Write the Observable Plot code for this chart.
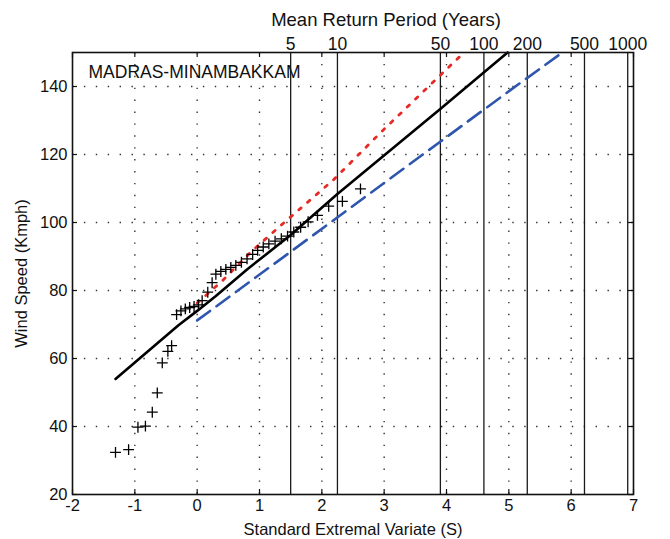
<!DOCTYPE html>
<html><head><meta charset="utf-8">
<script src="https://cdn.jsdelivr.net/npm/d3@7"></script>
<script src="https://cdn.jsdelivr.net/npm/@observablehq/plot@0.6"></script>
<style>html,body{margin:0;padding:0;background:#fff}</style>
</head><body><div id="chart"></div>
<script>
const station = "MADRAS-MINAMBAKKAM";
const xTitle = "Standard Extremal Variate (S)";
const yTitle = "Wind Speed (Kmph)";
const topTitle = "Mean Return Period (Years)";
const xTicks = [-2,-1,0,1,2,3,4,5,6,7];
const yTicks = [20,40,60,80,100,120,140];
const returnPeriods = [5,10,50,100,200,500,1000];

// observed annual maxima (reduced variate S, wind speed)
const obsS = [-1.31,-1.10,-0.95,-0.83,-0.72,-0.64,-0.56,-0.47,-0.41,-0.33,-0.26,-0.19,-0.12,-0.05,0.02,0.08,0.17,0.24,0.30,0.38,0.46,0.54,0.62,0.71,0.80,0.89,0.97,1.06,1.15,1.25,1.35,1.45,1.55,1.66,1.78,1.93,2.11,2.33,2.62];
const obsV = [32.4,33.2,39.8,40.1,44.2,49.9,58.7,62.1,63.8,72.9,74.0,74.6,75.0,75.3,75.8,77.0,79.5,82.3,84.8,85.6,86.2,86.8,87.4,88.3,89.3,90.6,91.8,92.8,93.7,94.5,95.2,96.0,97.2,98.6,100.2,102.1,104.8,106.2,109.9];

// fitted Gumbel line (black)
const fitS = [-1.31,-0.3,0.0,0.3,0.8,1.5,2.25,3.9,4.98];
const fitV = [54.0,69.8,74.0,78.4,86.2,96.3,108.4,133.4,150];
// upper confidence (red dotted)
const upS = [0.0,0.4,0.86,1.34,2.19,2.94,3.9,4.28];
const upV = [76.3,82.8,91.3,99.1,112.6,126.4,143.3,150];
// lower confidence (blue dashed)
const loS = [0.0,1.5,3.91,5.03,5.86];
const loV = [71.2,91.4,123.9,139.0,150];

const rpS = returnPeriods.map(T => -Math.log(-Math.log(1 - 1/T)));
const obs = obsS.map((s,i) => ({s, v: obsV[i]}));
const fit = fitS.map((s,i) => ({s, v: fitV[i]}));
const up = upS.map((s,i) => ({s, v: upV[i]}));
const lo = loS.map((s,i) => ({s, v: loV[i]}));

const W = 670, H = 539, mL = 72, mR = 37, mT = 52, mB = 45;
const pw = W - mL - mR, ph = H - mT - mB;
const tick = 5;

const chart = Plot.plot({
  width: W, height: H,
  marginLeft: mL, marginRight: mR, marginTop: mT, marginBottom: mB,
  style: {fontFamily: "'Liberation Sans', Arial, sans-serif", fontSize: "16px", color: "#111", background: "#fff"},
  x: {domain: [-2, 7]},
  y: {domain: [20, 150]},
  marks: [
    Plot.ruleX(xTicks.slice(1, -1), {stroke: "#333", strokeWidth: 1.4, strokeDasharray: "1.4,10.5"}),
    Plot.ruleY(yTicks.slice(1), {stroke: "#333", strokeWidth: 1.4, strokeDasharray: "1.4,10.5"}),
    Plot.ruleX(rpS, {stroke: "#1a1a1a", strokeWidth: 1.3}),
    Plot.ruleX(xTicks, {stroke: "#111", strokeWidth: 1.2, insetTop: ph - tick}),
    Plot.ruleX(xTicks, {stroke: "#111", strokeWidth: 1.2, insetBottom: ph - tick}),
    Plot.ruleY(yTicks, {stroke: "#111", strokeWidth: 1.2, insetRight: pw - tick}),
    Plot.ruleY(yTicks, {stroke: "#111", strokeWidth: 1.2, insetLeft: pw - tick}),
    Plot.line(lo, {x: "s", y: "v", stroke: "#2f56ad", strokeWidth: 2.6, strokeDasharray: "16,8"}),
    Plot.line(up, {x: "s", y: "v", stroke: "#e62a26", strokeWidth: 2.8, strokeDasharray: "3,8.5"}),
    Plot.line(fit, {x: "s", y: "v", stroke: "#000", strokeWidth: 2.6}),
    Plot.dot(obs, {x: "s", y: "v", symbol: "plus", r: 3.6, stroke: "#000", strokeWidth: 1.3}),
    Plot.frame({stroke: "#111", strokeWidth: 1.6}),
    Plot.text([station], {frameAnchor: "top-left", dx: 16, dy: 20, textAnchor: "start", lineAnchor: "middle", fontSize: 17.5, fill: "#111"}),
    Plot.text([topTitle], {frameAnchor: "top", dx: 33, dy: -32, lineAnchor: "middle", fontSize: 18.5, fill: "#111"}),
    Plot.axisX(xTicks, {anchor: "bottom", tickSize: 0, tickPadding: 5, tickFormat: d => String(d), fontSize: 16.5,
      label: xTitle, labelAnchor: "center", labelArrow: "none", labelOffset: 40}),
    Plot.axisY(yTicks, {anchor: "left", tickSize: 0, tickPadding: 5, tickFormat: d => String(d), fontSize: 16.5,
      label: yTitle, labelAnchor: "center", labelArrow: "none", labelOffset: 57}),
    Plot.axisX(rpS, {anchor: "top", tickSize: 0, tickPadding: 3, fontSize: 17.5, tickFormat: d => String(returnPeriods[rpS.indexOf(d)]), label: null})
  ]
});
document.getElementById("chart").appendChild(chart);
</script>
</body></html>
